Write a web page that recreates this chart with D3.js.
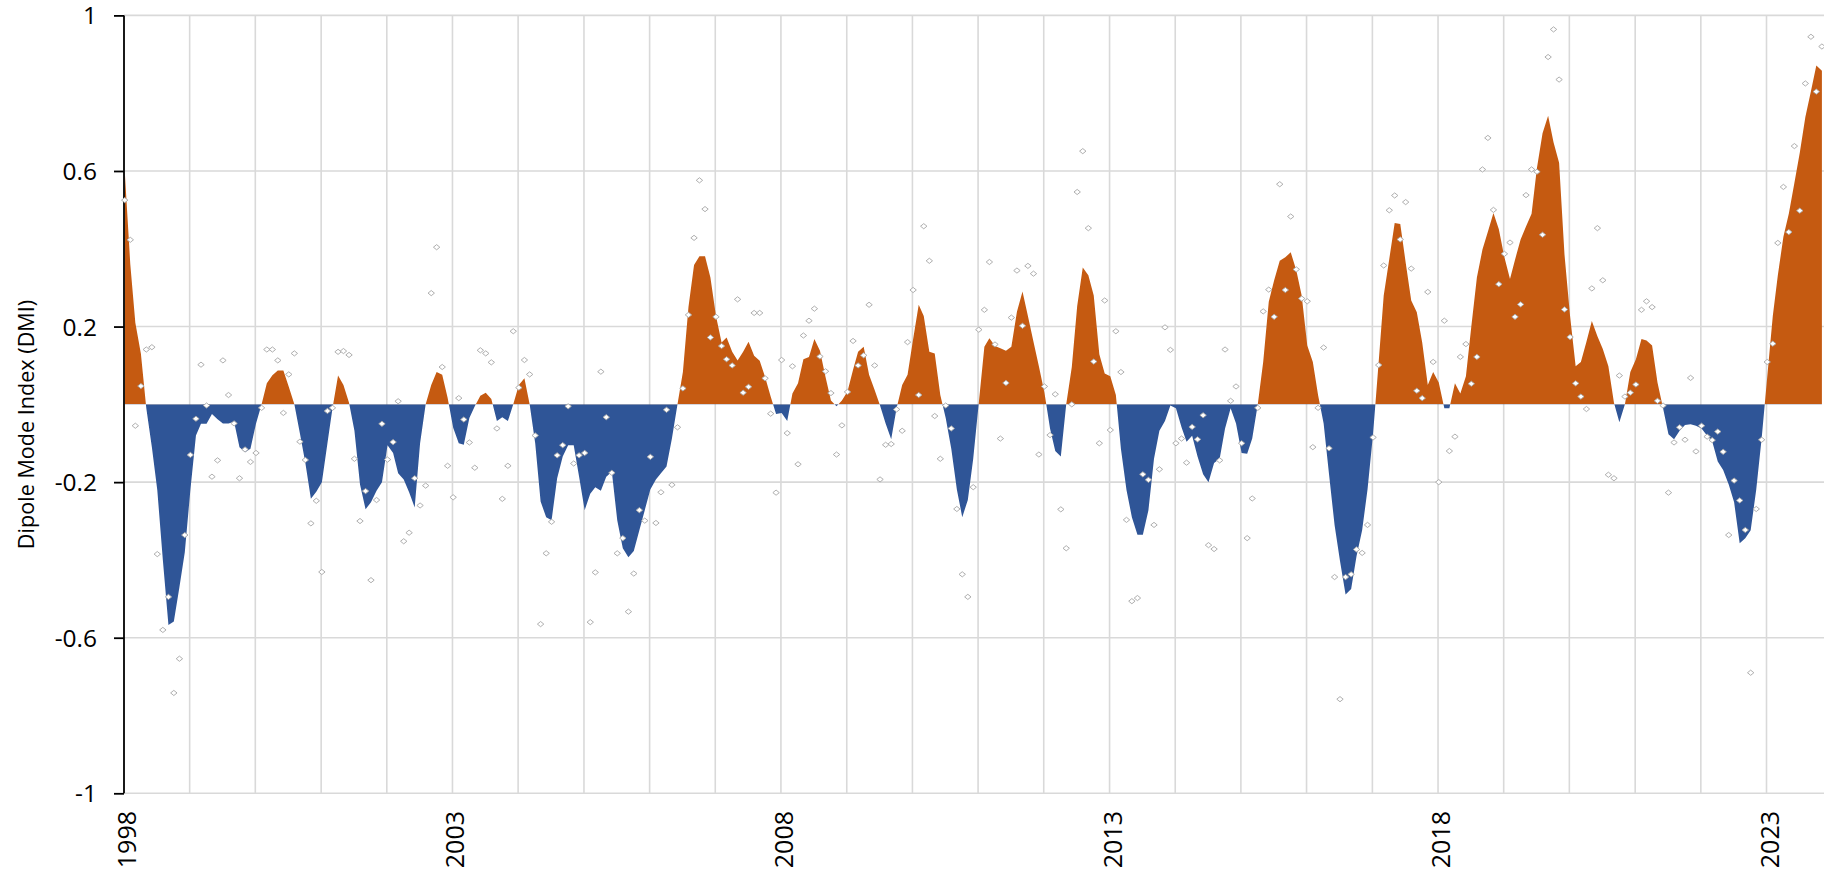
<!DOCTYPE html>
<html>
<head>
<meta charset="utf-8">
<script src="https://cdn.jsdelivr.net/npm/d3@7"></script>
<style>
html,body{margin:0;padding:0;background:#ffffff;overflow:hidden}
svg{display:block}
</style>
</head>
<body>
<svg id="chart" width="1824" height="875"></svg>
<script>
// ---------------- DATA ----------------
const startYear = 1998;   // first month = Jan 1998, one value per month

// smoothed DMI (filled area)
const smoothedDMI = [
 0.60,0.36,0.21,0.13,-0.01,-0.11,-0.22,-0.40,-0.567,-0.558,-0.47,-0.38,
 -0.22,-0.08,-0.05,-0.05,-0.025,-0.038,-0.049,-0.049,-0.045,-0.11,-0.123,-0.114,
 -0.049,0.0,0.054,0.075,0.087,0.087,0.045,0.0,-0.075,-0.15,-0.243,-0.225,
 -0.20,-0.10,-0.01,0.074,0.05,0.004,-0.068,-0.206,-0.27,-0.252,-0.222,-0.20,
 -0.105,-0.125,-0.177,-0.193,-0.226,-0.265,-0.10,0.0,0.05,0.083,0.076,0.017,
 -0.06,-0.10,-0.104,-0.035,-0.005,0.022,0.03,0.014,-0.043,-0.033,-0.043,0.0,
 0.05,0.067,0.0,-0.10,-0.25,-0.29,-0.298,-0.19,-0.134,-0.105,-0.105,-0.186,
 -0.272,-0.23,-0.213,-0.222,-0.186,-0.173,-0.298,-0.37,-0.393,-0.377,-0.324,-0.272,
 -0.219,-0.193,-0.177,-0.16,-0.088,0.0,0.083,0.25,0.358,0.381,0.381,0.326,
 0.227,0.159,0.172,0.135,0.113,0.135,0.161,0.125,0.112,0.07,0.02,-0.025,
 -0.022,-0.043,0.028,0.054,0.116,0.122,0.168,0.138,0.07,0.01,-0.005,0.01,
 0.033,0.089,0.135,0.148,0.076,0.037,-0.003,-0.049,-0.09,-0.01,0.05,0.076,
 0.168,0.256,0.227,0.135,0.131,0.024,-0.035,-0.114,-0.219,-0.29,-0.246,-0.14,
 0.004,0.148,0.17,0.15,0.144,0.138,0.148,0.238,0.29,0.227,0.161,0.098,
 0.03,-0.062,-0.12,-0.134,0.0,0.096,0.253,0.352,0.332,0.28,0.129,0.079,
 0.072,0.024,-0.114,-0.22,-0.29,-0.335,-0.335,-0.272,-0.14,-0.068,-0.043,-0.003,
 -0.01,-0.059,-0.096,-0.081,-0.134,-0.18,-0.20,-0.151,-0.14,-0.062,-0.01,-0.049,
 -0.125,-0.127,-0.088,0.0,0.109,0.264,0.319,0.369,0.378,0.391,0.345,0.28,
 0.151,0.109,0.024,-0.049,-0.18,-0.311,-0.403,-0.489,-0.475,-0.39,-0.324,-0.219,
 -0.075,0.109,0.28,0.374,0.466,0.464,0.365,0.267,0.237,0.159,0.05,0.083,
 0.056,-0.01,-0.01,0.054,0.028,0.072,0.20,0.326,0.398,0.444,0.492,0.45,
 0.378,0.322,0.372,0.424,0.457,0.49,0.608,0.697,0.742,0.674,0.621,0.385,
 0.227,0.098,0.109,0.161,0.214,0.175,0.142,0.098,0.004,-0.046,0.0,0.083,
 0.116,0.168,0.164,0.151,0.056,-0.01,-0.077,-0.09,-0.068,-0.053,-0.051,-0.055,
 -0.062,-0.081,-0.095,-0.147,-0.169,-0.206,-0.252,-0.357,-0.344,-0.324,-0.219,-0.088,
 0.07,0.227,0.332,0.431,0.49,0.569,0.647,0.739,0.805,0.871,0.858
];

// monthly DMI (diamond markers)
const monthlyDMI = [
 0.525,0.423,-0.055,0.047,0.141,0.147,-0.385,-0.58,-0.495,-0.742,-0.654,-0.336,
 -0.13,-0.037,0.102,-0.003,-0.186,-0.144,0.113,0.024,-0.049,-0.19,-0.116,-0.148,
 -0.125,-0.009,0.141,0.141,0.113,-0.022,0.077,0.131,-0.096,-0.143,-0.306,-0.248,
 -0.431,-0.017,-0.009,0.135,0.137,0.127,-0.14,-0.30,-0.223,-0.452,-0.246,-0.05,
 -0.142,-0.097,0.008,-0.352,-0.33,-0.19,-0.26,-0.209,0.286,0.404,0.096,-0.158,
 -0.239,0.016,-0.039,-0.098,-0.163,0.139,0.131,0.108,-0.062,-0.243,-0.158,0.188,
 0.043,0.114,0.077,-0.08,-0.565,-0.383,-0.302,-0.131,-0.105,-0.005,-0.152,-0.131,
 -0.125,-0.56,-0.432,0.084,-0.033,-0.176,-0.383,-0.344,-0.533,-0.435,-0.272,-0.299,
 -0.135,-0.305,-0.226,-0.014,-0.207,-0.059,0.041,0.23,0.428,0.576,0.502,0.172,
 0.225,0.15,0.116,0.10,0.27,0.03,0.045,0.235,0.235,0.067,-0.024,-0.227,
 0.114,-0.074,0.098,-0.154,0.177,0.215,0.246,0.123,0.085,0.029,-0.129,-0.054,
 0.032,0.163,0.10,0.126,0.256,0.10,-0.193,-0.104,-0.102,-0.013,-0.068,0.16,
 0.294,0.024,0.458,0.369,-0.03,-0.14,-0.003,-0.062,-0.269,-0.437,-0.495,-0.213,
 0.192,0.243,0.366,0.154,-0.088,0.055,0.223,0.344,0.202,0.356,0.336,-0.129,
 0.046,-0.079,0.026,-0.27,-0.37,0.0,0.546,0.651,0.453,0.11,-0.10,0.267,
 -0.066,0.188,0.083,-0.297,-0.506,-0.498,-0.18,-0.194,-0.31,-0.167,0.198,0.14,
 -0.10,-0.088,-0.15,-0.058,-0.09,-0.028,-0.362,-0.372,-0.144,0.141,0.009,0.046,
 -0.10,-0.344,-0.242,-0.009,0.239,0.295,0.225,0.566,0.294,0.483,0.347,0.272,
 0.265,-0.11,-0.009,0.146,-0.113,-0.444,-0.758,-0.444,-0.437,-0.373,-0.382,-0.31,
 -0.085,0.101,0.357,0.499,0.537,0.424,0.52,0.349,0.035,0.016,0.289,0.109,
 -0.20,0.215,-0.12,-0.083,0.122,0.155,0.053,0.122,0.604,0.685,0.50,0.309,
 0.387,0.416,0.225,0.257,0.538,0.604,0.598,0.436,0.893,0.964,0.835,0.244,
 0.173,0.054,0.02,-0.012,0.298,0.453,0.319,-0.181,-0.19,0.074,0.02,0.03,
 0.051,0.243,0.265,0.25,0.009,-0.003,-0.227,-0.098,-0.059,-0.091,0.068,-0.121,
 -0.055,-0.083,-0.092,-0.07,-0.122,-0.336,-0.196,-0.247,-0.323,-0.69,-0.269,-0.091,
 0.109,0.156,0.415,0.559,0.443,0.664,0.498,0.825,0.945,0.804,0.92
];

const yTickValues = [-1, -0.6, -0.2, 0.2, 0.6, 1];
const xLabelYears = [1998, 2003, 2008, 2013, 2018, 2023];
const yAxisTitle = "Dipole Mode Index (DMI)";

// ---------------- CHART ----------------
const W = 1824, H = 875;
const FONT = "'Open Sans', 'Noto Sans', sans-serif";
const posColor = "#C55A11", negColor = "#2F5597", gridColor = "#d9d9d9";

const svg = d3.select("#chart");

const x = d3.scaleTime()
  .domain([new Date(1998, 0, 1), new Date(2023, 0, 1)])
  .range([124, 1766.5]);
const y = d3.scaleLinear().domain([-1, 1]).range([793.3, 15.4]);

const dateOf = i => new Date(startYear, i, 5);
const smooth = smoothedDMI.map((v, i) => ({date: dateOf(i), v}));
const monthly = monthlyDMI.map((v, i) => ({date: dateOf(i), v}));

// gridlines
const grid = svg.append("g");
const yearLines = d3.range(1999, 2024).map(yr => new Date(yr, 0, 1));
grid.selectAll("line.v").data(yearLines).join("line")
  .attr("x1", d => x(d)).attr("x2", d => x(d))
  .attr("y1", y(1)).attr("y2", y(-1))
  .attr("stroke", gridColor).attr("stroke-width", 1.6);
grid.selectAll("line.h").data(yTickValues).join("line")
  .attr("x1", x(new Date(1998,0,1))).attr("x2", W)
  .attr("y1", d => y(d)).attr("y2", d => y(d))
  .attr("stroke", gridColor).attr("stroke-width", 1.6);

// clip paths for positive / negative parts
const defs = svg.append("defs");
defs.append("clipPath").attr("id", "clipPos").append("rect")
  .attr("x", 0).attr("y", 0).attr("width", W).attr("height", y(0));
defs.append("clipPath").attr("id", "clipNeg").append("rect")
  .attr("x", 0).attr("y", y(0)).attr("width", W).attr("height", H - y(0));

const area = d3.area()
  .x(d => x(d.date))
  .y0(y(0))
  .y1(d => y(d.v));

svg.append("path").datum(smooth)
  .attr("d", area).attr("fill", posColor).attr("clip-path", "url(#clipPos)");
svg.append("path").datum(smooth)
  .attr("d", area).attr("fill", negColor).attr("clip-path", "url(#clipNeg)");

// y axis
const yAxis = d3.axisLeft(y).tickValues(yTickValues).tickSize(10).tickPadding(17)
  .tickFormat(d => String(d));
const gy = svg.append("g").attr("transform", `translate(${x(new Date(1998,0,1))},0)`).call(yAxis);
gy.select(".domain").attr("stroke", "#000").attr("stroke-width", 1.8)
  .attr("d", `M0,${y(1)}V${y(-1)}`);
gy.selectAll(".tick line").attr("stroke", "#000").attr("stroke-width", 1.8);
gy.selectAll(".tick text").attr("font-family", FONT).attr("font-size", 24.5)
  .attr("fill", "#000").attr("dy", "0.35em");

// x labels (rotated)
svg.append("g").selectAll("text").data(xLabelYears).join("text")
  .attr("transform", d => `translate(${x(new Date(d,0,1)) + 3},811) rotate(-90)`)
  .attr("text-anchor", "end")
  .attr("dy", "0.36em")
  .attr("font-family", FONT).attr("font-size", 25)
  .attr("fill", "#000")
  .text(d => d);

// y-axis title
svg.append("text")
  .attr("transform", `translate(26,424.5) rotate(-90)`)
  .attr("text-anchor", "middle").attr("dy", "0.35em")
  .attr("font-family", FONT).attr("font-size", 21.6).attr("fill", "#000")
  .text(yAxisTitle);

// monthly markers (diamonds)
const diamond = "M0,-2.6L3.2,0L0,2.6L-3.2,0Z";
svg.append("g").selectAll("path").data(monthly).join("path")
  .attr("transform", d => `translate(${x(d.date)},${y(d.v)})`)
  .attr("d", diamond)
  .attr("fill", "#ffffff").attr("stroke", "#a6a6a6").attr("stroke-width", 0.9);
</script>
</body>
</html>
